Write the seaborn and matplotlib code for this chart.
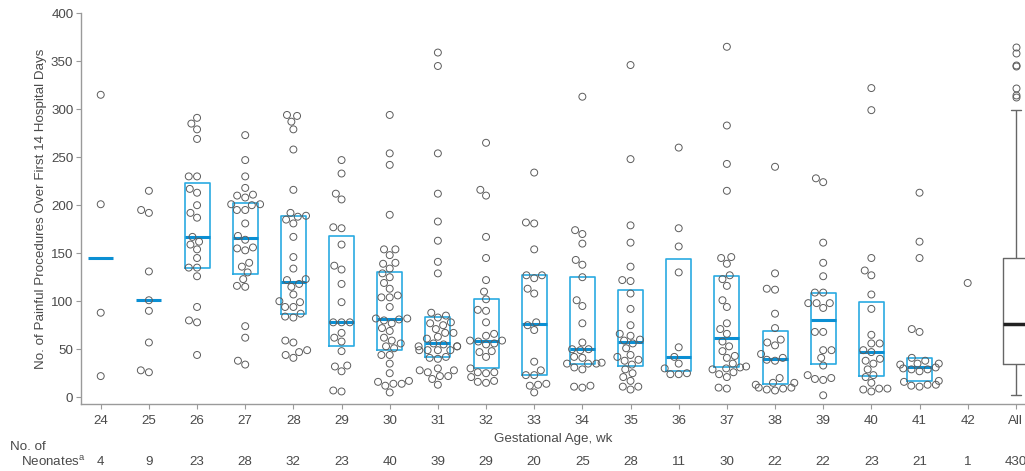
import pandas as pd
import matplotlib
matplotlib.use("Agg")
import matplotlib.pyplot as plt
import seaborn as sns

# --- Datos: procedimientos dolorosos por neonato, por edad gestacional ---
ages = [str(a) for a in range(24, 43)]
all_label = "All"

g24 = [315, 201, 88, 22]
g25 = [215, 195, 192, 131, 101, 90, 57, 28, 26]
g26 = [291, 285, 279, 269, 230, 230, 217, 213, 200, 192, 187, 167, 162, 159, 154, 145, 135, 135, 126, 94, 80, 78, 44]
g27 = [273, 247, 230, 218, 211, 210, 208, 201, 201, 200, 195, 195, 181, 168, 164, 156, 155, 153, 140, 136,
       130, 123, 116, 115, 74, 62, 38, 34]
g28 = [294, 293, 287, 279, 258, 216, 192, 189, 188, 185, 181, 167, 146, 134, 123, 122, 118, 115, 107, 100,
       99, 94, 94, 87, 84, 83, 59, 57, 49, 47, 44, 41]
g29 = [247, 233, 212, 206, 177, 176, 159, 137, 133, 118, 99, 78, 78, 78, 67, 62, 58, 48, 33, 32, 27, 7, 6]
g30 = [294, 254, 242, 190, 154, 154, 148, 140, 139, 134, 129, 125, 119, 113, 106, 104, 104, 94, 82, 81,
       82, 80, 77, 72, 69, 62, 59, 56, 53, 51, 44, 44, 35, 25, 17, 16, 14, 14, 12, 5]
g31 = [359, 345, 254, 212, 183, 163, 141, 129, 88, 85, 83, 78, 77, 75, 71, 67, 67, 63, 61, 56,
       55, 53, 53, 53, 49, 49, 49, 49, 42, 41, 40, 30, 28, 28, 26, 22, 22, 19, 13]
g32 = [265, 216, 210, 167, 145, 122, 110, 102, 91, 90, 78, 66, 64, 59, 59, 58, 56, 55, 48, 47,
       42, 30, 26, 26, 25, 21, 17, 16, 15]
g33 = [234, 182, 181, 154, 127, 127, 124, 113, 108, 78, 75, 70, 37, 28, 23, 23, 14, 13, 12, 5]
g34 = [313, 174, 170, 160, 143, 138, 125, 101, 95, 77, 57, 50, 50, 49, 42, 41, 36, 35, 35, 35, 31, 29, 12, 11, 10]
g35 = [346, 248, 179, 161, 136, 122, 121, 108, 92, 75, 66, 64, 60, 59, 56, 51, 44, 42, 39, 38,
       34, 29, 25, 21, 17, 11, 11, 8]
g36 = [260, 176, 157, 130, 52, 42, 35, 30, 25, 24, 24]
g37 = [365, 283, 243, 215, 146, 145, 139, 127, 123, 116, 101, 94, 77, 71, 66, 58, 53, 48, 43, 41,
       35, 32, 31, 30, 29, 26, 24, 21, 10, 9]
g38 = [240, 129, 113, 112, 87, 72, 60, 57, 54, 45, 41, 39, 38, 20, 15, 15, 13, 10, 10, 9, 8, 7]
g39 = [228, 224, 161, 140, 126, 109, 109, 98, 98, 98, 93, 68, 68, 49, 49, 41, 33, 23, 20, 19, 18, 2]
g40 = [322, 299, 145, 132, 127, 107, 92, 65, 56, 56, 49, 47, 40, 38, 35, 29, 23, 21, 15, 9, 9, 8, 6]
g41 = [213, 162, 145, 71, 68, 41, 38, 35, 35, 34, 31, 30, 29, 29, 27, 17, 16, 13, 13, 12, 11]
g42 = [119]

groups = [g24, g25, g26, g27, g28, g29, g30, g31, g32, g33, g34, g35, g36, g37, g38, g39, g40, g41, g42]

# --- Tabla larga ---
rows = [(age, v) for age, vals in zip(ages, groups) for v in vals]
df = pd.DataFrame(rows, columns=["age", "procedures"])
order = ages + [all_label]
counts = df.groupby("age").size()
n_per_row = df.groupby("age")["procedures"].transform("size")

BOX_BLUE = "#2aaae2"
MED_BLUE = "#0b8fd3"
POINT_EDGE = "#5c5c5c"
TEXT = "#4a4a4a"
SPINE = "#9a9a9a"

sns.set_style("ticks")
plt.rcParams["font.family"] = ["Liberation Sans", "DejaVu Sans"]
plt.rcParams["mathtext.default"] = "regular"

fig = plt.figure(figsize=(10.25, 4.71), dpi=100)
ax = fig.add_axes([0.079, 0.143, 0.921, 0.829])

# Cajas IQR (sin bigotes) para grupos con n >= 10
sns.boxplot(data=df[n_per_row >= 10], x="age", y="procedures", order=order, ax=ax,
            width=0.52, fill=False, color=BOX_BLUE, linewidth=1.2, whis=0,
            showfliers=False, showcaps=False, whiskerprops=dict(linewidth=0),
            medianprops=dict(color=MED_BLUE, linewidth=2.2))

# Solo mediana para grupos pequeños
sns.boxplot(data=df[(n_per_row >= 2) & (n_per_row < 10)], x="age", y="procedures", order=order, ax=ax,
            width=0.52, fill=False, color=BOX_BLUE, whis=0,
            showfliers=False, showcaps=False, boxprops=dict(linewidth=0),
            whiskerprops=dict(linewidth=0),
            medianprops=dict(color=MED_BLUE, linewidth=2.2))

# Caja completa para todos
sns.boxplot(data=df.assign(age=all_label), x="age", y="procedures", order=order, ax=ax,
            width=0.52, fill=False, color="#666666", linewidth=1.0, capwidths=0.2,
            medianprops=dict(color="#222222", linewidth=2.5),
            flierprops=dict(marker="o", markerfacecolor="none", markeredgecolor=POINT_EDGE,
                            markersize=5, markeredgewidth=0.7))

# Puntos individuales
sns.swarmplot(data=df, x="age", y="procedures", order=order, ax=ax, size=5, marker="o",
              facecolors="none", edgecolor=POINT_EDGE, linewidth=0.7, warn_thresh=1)

ax.set_xlim(-0.41, 19.19)
ax.set_ylim(-6.7, 400)
ax.set_yticks(range(0, 401, 50))
sns.despine(ax=ax)
for s in ["left", "bottom"]:
    ax.spines[s].set_color(SPINE)
    ax.spines[s].set_linewidth(1.0)
ax.tick_params(color=SPINE, labelcolor=TEXT, labelsize=9.6, length=3.5, width=0.8, pad=2)
ax.tick_params(axis="x", pad=5)

ax.set_ylabel("No. of Painful Procedures Over First 14 Hospital Days", fontsize=9.6, color=TEXT)
ax.yaxis.set_label_coords(-0.036, 0.5)
ax.set_xlabel("Gestational Age, wk", fontsize=9.6, color=TEXT)
ax.xaxis.set_label_coords(0.5, -0.075)

# Fila de conteos
for i, age in enumerate(order):
    n = len(df) if age == all_label else counts[age]
    ax.text(i, -0.149, str(n), transform=ax.get_xaxis_transform(), ha="center", va="center",
            fontsize=9.6, color=TEXT)
fig.text(10 / 1025, 1 - 447 / 471, "No. of", ha="left", va="center", fontsize=9.6, color=TEXT)
fig.text(21 / 1025, 1 - 462 / 471, "Neonates$^{a}$", ha="left", va="center", fontsize=9.6, color=TEXT)

fig.savefig("out.png", dpi=100)
